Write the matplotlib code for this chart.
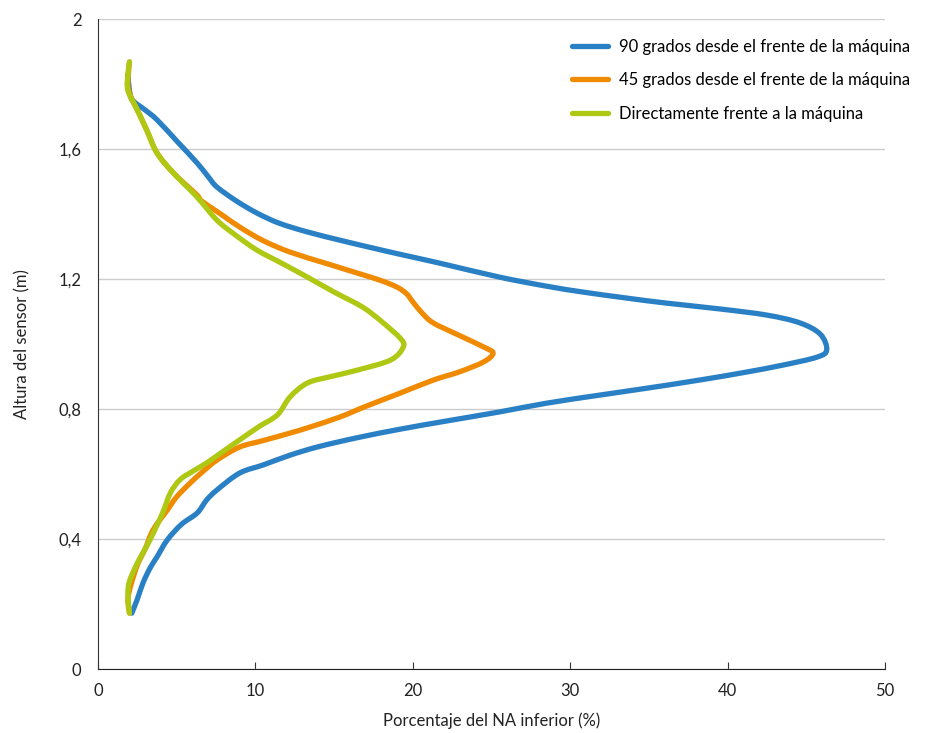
import matplotlib
matplotlib.use("Agg")
import matplotlib.pyplot as plt
from matplotlib.path import Path
from matplotlib.patches import PathPatch
from matplotlib.lines import Line2D

# Data: (percentage, height) pairs
blue_x = [1.9, 2.0, 2.2, 3.0, 3.75, 5.0, 6.3, 7.0, 7.56, 8.8, 10.1, 11.5, 13.3, 15.5, 17.5, 19.2, 21.7, 25.5, 28.5, 30.8, 33.5, 36.1, 39.5, 42.5, 44.6, 45.9, 46.3, 45.7, 43.5, 41.0, 38.2, 35.0, 31.9, 28.5, 25.5, 22.0, 19.2, 16.5, 14.0, 12.2, 10.5, 9.0, 7.56, 6.9, 6.3, 5.3, 4.4, 3.75, 3.3, 2.86, 2.5, 2.15]
blue_y = [1.83, 1.78, 1.75, 1.72, 1.69, 1.625, 1.557, 1.515, 1.483, 1.44, 1.403, 1.372, 1.345, 1.318, 1.295, 1.276, 1.249, 1.206, 1.178, 1.160, 1.142, 1.126, 1.108, 1.089, 1.065, 1.030, 0.982, 0.960, 0.935, 0.912, 0.889, 0.865, 0.843, 0.818, 0.791, 0.762, 0.738, 0.712, 0.684, 0.658, 0.628, 0.603, 0.551, 0.520, 0.480, 0.445, 0.397, 0.345, 0.310, 0.265, 0.215, 0.172]

orange_x = [2.0, 1.9, 2.1, 2.5, 3.1, 3.75, 4.8, 6.3, 6.5, 7.8, 9.0, 10.5, 12.2, 14.5, 16.5, 18.0, 19.0, 19.6, 20.0, 20.6, 21.3, 22.8, 24.5, 25.1, 24.5, 23.0, 21.3, 19.2, 17.0, 15.4, 13.5, 12.2, 10.5, 9.0, 7.56, 6.6, 5.85, 5.0, 4.4, 3.5, 3.0, 2.5, 2.1, 1.9, 2.0]
orange_y = [1.868, 1.80, 1.76, 1.72, 1.658, 1.588, 1.526, 1.458, 1.443, 1.40, 1.360, 1.318, 1.283, 1.248, 1.218, 1.195, 1.175, 1.155, 1.130, 1.095, 1.065, 1.030, 0.991, 0.972, 0.945, 0.915, 0.889, 0.849, 0.808, 0.776, 0.745, 0.726, 0.703, 0.683, 0.643, 0.605, 0.572, 0.530, 0.489, 0.428, 0.370, 0.320, 0.260, 0.215, 0.172]

green_x = [2.0, 1.9, 1.9, 2.5, 3.1, 3.75, 4.8, 6.3, 7.56, 8.8, 10.1, 11.7, 13.3, 15.0, 16.8, 18.0, 19.2, 19.4, 18.6, 16.5, 14.8, 13.3, 12.2, 11.4, 10.2, 9.0, 7.9, 6.9, 5.9, 5.2, 4.6, 4.1, 3.3, 2.5, 2.0, 1.9, 2.0]
green_y = [1.868, 1.83, 1.78, 1.72, 1.658, 1.588, 1.526, 1.452, 1.381, 1.333, 1.289, 1.248, 1.206, 1.160, 1.114, 1.070, 1.018, 0.991, 0.951, 0.920, 0.900, 0.880, 0.837, 0.782, 0.745, 0.705, 0.668, 0.634, 0.605, 0.582, 0.542, 0.480, 0.397, 0.326, 0.270, 0.230, 0.172]

labels = ["90 grados desde el frente de la máquina",
          "45 grados desde el frente de la máquina",
          "Directamente frente a la máquina"]
colors = ["#2a80c4", "#f08a00", "#aec813"]

x_ticks = [0, 10, 20, 30, 40, 50]
y_ticks = [0, 0.4, 0.8, 1.2, 1.6, 2.0]
y_tick_labels = ["0", "0,4", "0,8", "1,2", "1,6", "2"]

plt.rcParams['font.family'] = ['Lato', 'DejaVu Sans']


def smooth_path(xs, ys):
    """Catmull-Rom through the points, expressed as cubic Bezier path segments."""
    pts = list(zip(xs, ys))
    verts = [pts[0]]
    codes = [Path.MOVETO]
    n = len(pts)
    for i in range(n - 1):
        p0 = pts[i - 1] if i > 0 else pts[i]
        p1 = pts[i]
        p2 = pts[i + 1]
        p3 = pts[i + 2] if i + 2 < n else pts[i + 1]
        c1 = (p1[0] + (p2[0] - p0[0]) / 6.0, p1[1] + (p2[1] - p0[1]) / 6.0)
        c2 = (p2[0] - (p3[0] - p1[0]) / 6.0, p2[1] - (p3[1] - p1[1]) / 6.0)
        verts += [c1, c2, p2]
        codes += [Path.CURVE4] * 3
    return Path(verts, codes)


fig = plt.figure(figsize=(9.28, 7.33), dpi=100)
ax = fig.add_axes([0.1056, 0.0873, 0.848, 0.8867])

handles = []
for xs, ys, c, lab in zip([blue_x, orange_x, green_x], [blue_y, orange_y, green_y], colors, labels):
    patch = PathPatch(smooth_path(xs, ys), facecolor='none', edgecolor=c, lw=3.8,
                      joinstyle='round', capstyle='round', zorder=3)
    ax.add_patch(patch)
    handles.append(Line2D([], [], color=c, lw=3.8, solid_capstyle='round', label=lab))

ax.set_xlim(0, 50)
ax.set_ylim(0, 2)
ax.set_xticks(x_ticks)
ax.set_yticks(y_ticks)
ax.set_yticklabels(y_tick_labels)
ax.tick_params(axis='x', direction='in', length=5, width=0.8, colors='#333333', labelsize=12, pad=10, labelcolor='#222222')
ax.tick_params(axis='y', length=0, labelsize=12, pad=12, labelcolor='#222222')
ax.grid(axis='y', color='#cccccc', lw=1)
ax.set_axisbelow(True)
for s in ['top', 'right']:
    ax.spines[s].set_visible(False)
ax.spines['left'].set_color('#333333')
ax.spines['bottom'].set_color('#222222')
ax.set_xlabel("Porcentaje del NA inferior (%)", fontsize=12, labelpad=10, color='#222222')
ax.set_ylabel("Altura del sensor (m)", fontsize=12, labelpad=20, color='#222222')

leg = ax.legend(handles=handles, loc='upper left', bbox_to_anchor=(0.602, 0.97), frameon=False, fontsize=12,
                handlelength=2.2, handletextpad=0.65, labelspacing=1.05, borderpad=0, borderaxespad=0)

fig.savefig("out.png", dpi=100)
